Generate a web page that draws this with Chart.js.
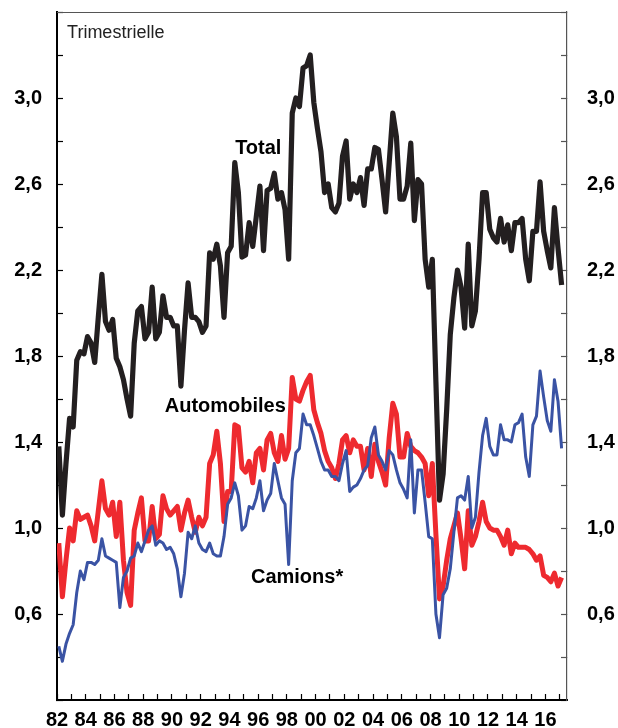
<!DOCTYPE html>
<html>
<head>
<meta charset="utf-8">
<script src="https://cdn.jsdelivr.net/npm/chart.js@4.4.1/dist/chart.umd.min.js"></script>
<style>
  html, body { margin: 0; padding: 0; background: #fff; }
  #wrap { width: 618px; height: 728px; }
</style>
</head>
<body>
<div id="wrap"><canvas id="chart" width="618" height="728"></canvas></div>
<script>
// quarterly values, first point = 1982 Q1
var startYear = 1982;

var total = [
  1.38, 1.06, 1.30, 1.51,  // 1982
  1.47, 1.78, 1.82, 1.81,
  1.89, 1.86, 1.77, 1.98,
  2.18, 1.96, 1.92, 1.97,
  1.79, 1.75, 1.69, 1.60,  // 1986
  1.52, 1.86, 2.01, 2.03,
  1.88, 1.91, 2.12, 1.88,
  1.91, 2.08, 1.98, 1.98,
  1.94, 1.94, 1.66, 1.92,  // 1990
  2.14, 1.98, 1.98, 1.96,
  1.91, 1.94, 2.28, 2.25,
  2.32, 2.22, 1.98, 2.28,
  2.31, 2.70, 2.56, 2.26,  // 1994
  2.27, 2.42, 2.31, 2.45,
  2.59, 2.29, 2.57, 2.58,
  2.65, 2.53, 2.56, 2.48,
  2.25, 2.93, 3.00, 2.96,  // 1998
  3.14, 3.15, 3.20, 2.98,
  2.86, 2.75, 2.56, 2.60,
  2.49, 2.47, 2.51, 2.73,
  2.80, 2.53, 2.60, 2.56,  // 2002
  2.63, 2.50, 2.67, 2.67,
  2.77, 2.76, 2.62, 2.47,
  2.70, 2.93, 2.82, 2.53,
  2.53, 2.59, 2.79, 2.43,  // 2006
  2.62, 2.60, 2.25, 2.12,
  2.25, 1.68, 1.13, 1.25,
  1.55, 1.90, 2.07, 2.20,
  2.12, 1.93, 2.32, 1.94,  // 2010
  2.01, 2.25, 2.56, 2.56,
  2.39, 2.35, 2.33, 2.44,
  2.33, 2.41, 2.29, 2.42,
  2.42, 2.44, 2.25, 2.15,  // 2014
  2.38, 2.38, 2.61, 2.38,
  2.29, 2.21, 2.49, 2.30,
  2.13                     // 2017
];

var automobiles = [
  0.93, 0.68, 0.85, 1.00,  // 1982
  0.94, 1.08, 1.04, 1.05,
  1.06, 1.01, 0.94, 1.08,
  1.22, 1.09, 1.06, 1.12,
  0.96, 1.12, 0.85, 0.70,  // 1986
  0.64, 0.99, 1.07, 1.14,
  0.94, 0.94, 1.10, 0.95,
  0.97, 1.15, 1.09, 1.06,
  1.08, 1.10, 0.99, 1.07,  // 1990
  1.13, 1.05, 0.98, 1.05,
  1.01, 1.05, 1.30, 1.34,
  1.45, 1.30, 1.03, 1.17,
  1.17, 1.48, 1.47, 1.28,  // 1994
  1.26, 1.31, 1.21, 1.35,
  1.37, 1.27, 1.41, 1.44,
  1.35, 1.31, 1.43, 1.32,
  1.37, 1.70, 1.60, 1.59,  // 1998
  1.64, 1.68, 1.71, 1.55,
  1.49, 1.44, 1.36, 1.31,
  1.28, 1.23, 1.30, 1.41,
  1.43, 1.35, 1.41, 1.38,  // 2002
  1.38, 1.27, 1.37, 1.24,
  1.39, 1.31, 1.26, 1.20,
  1.42, 1.58, 1.53, 1.33,
  1.33, 1.44, 1.38, 1.36,  // 2006
  1.35, 1.33, 1.30, 1.15,
  1.30, 0.97, 0.67, 0.73,
  0.85, 0.95, 1.01, 1.07,
  0.95, 0.81, 1.08, 0.92,  // 2010
  0.96, 1.03, 1.12, 1.03,
  1.00, 0.99, 0.99, 0.96,
  0.92, 0.99, 0.88, 0.93,
  0.91, 0.91, 0.91, 0.90,  // 2014
  0.88, 0.85, 0.87, 0.78,
  0.77, 0.75, 0.79, 0.73,
  0.77                     // 2017
];

var camions = [
  0.45, 0.38, 0.46, 0.51,  // 1982
  0.55, 0.70, 0.80, 0.76,
  0.84, 0.84, 0.83, 0.85,
  0.95, 0.87, 0.86, 0.85,
  0.84, 0.63, 0.77, 0.80,  // 1986
  0.86, 0.87, 0.93, 0.89,
  0.94, 0.99, 1.01, 0.92,
  0.94, 0.93, 0.90, 0.91,
  0.88, 0.81, 0.68, 0.79,  // 1990
  0.98, 0.95, 1.01, 0.93,
  0.90, 0.89, 0.93, 0.88,
  0.87, 0.87, 0.96, 1.11,
  1.14, 1.21, 1.15, 0.99,  // 1994
  1.01, 1.10, 1.09, 1.14,
  1.22, 1.08, 1.13, 1.16,
  1.30, 1.22, 1.14, 1.11,
  0.83, 1.22, 1.35, 1.37,  // 1998
  1.53, 1.48, 1.48, 1.43,
  1.37, 1.31, 1.27, 1.27,
  1.24, 1.24, 1.22, 1.30,
  1.36, 1.17, 1.19, 1.20,  // 2002
  1.23, 1.27, 1.29, 1.42,
  1.47, 1.34, 1.31, 1.27,
  1.36, 1.34, 1.27, 1.21,
  1.18, 1.14, 1.41, 1.07,  // 2006
  1.27, 1.27, 1.12, 0.96,
  0.95, 0.60, 0.49, 0.69,
  0.72, 0.81, 0.98, 1.14,
  1.15, 1.13, 1.24, 1.00,  // 2010
  1.05, 1.26, 1.43, 1.51,
  1.38, 1.34, 1.34, 1.48,
  1.41, 1.41, 1.40, 1.48,
  1.49, 1.53, 1.33, 1.24,  // 2014
  1.48, 1.52, 1.73, 1.61,
  1.50, 1.45, 1.69, 1.59,
  1.37                     // 2017
];

// in-chart captions, anchored in data units (left edge, vertical middle)
var captions = [
  {text: 'Total', x: 1994.4, y: 2.765},
  {text: 'Automobiles', x: 1989.5, y: 1.565},
  {text: 'Camions*', x: 1995.5, y: 0.772}
];
var note = {text: 'Trimestrielle', x: 1982.7, y: 3.30};

var FONT = "'Liberation Sans', Arial, Helvetica, sans-serif";

function toPoints(values) {
  return values.map(function(v, i) {
    return {x: startYear + (i + 0.5) / 4, y: v};
  });
}

function yLabel(value) {
  var t = Math.round(value * 10);
  if (t > 2 && t < 34 && (t - 2) % 4 === 0) {
    return (t / 10).toFixed(1).replace('.', ',');
  }
  return '';
}

function xLabel(value) {
  if (Math.round(value) !== value || value % 2 !== 0) return '';
  var yy = String(value % 100);
  return yy.length < 2 ? '0' + yy : yy;
}

// fixed box sizes so the plot area lands where the original has it
function fixBox(w, h) {
  return function(s) {
    if (w !== null) s.width = w;
    if (h !== null) s.height = h;
    s.paddingTop = 0;
    s.paddingBottom = 0;
    s.paddingLeft = 0;
    s.paddingRight = 0;
  };
}

var captionPlugin = {
  id: 'captions',
  afterDraw: function(chart) {
    var c = chart.ctx;
    var xs = chart.scales.x;
    var ys = chart.scales.y;
    var a = chart.chartArea;
    c.save();
    // thin frame line on top
    c.strokeStyle = '#555';
    c.lineWidth = 1.2;
    c.beginPath();
    c.moveTo(a.left, a.top + 0.5);
    c.lineTo(a.right, a.top + 0.5);
    c.stroke();

    c.fillStyle = '#000';
    c.textAlign = 'left';
    c.textBaseline = 'middle';
    c.font = 'bold 20px ' + FONT;
    captions.forEach(function(l) {
      c.fillText(l.text, xs.getPixelForValue(l.x), ys.getPixelForValue(l.y));
    });
    c.fillStyle = '#222';
    c.font = '18px ' + FONT;
    c.fillText(note.text, xs.getPixelForValue(note.x), ys.getPixelForValue(note.y));
    c.restore();
  }
};

var tickFont = {family: FONT, size: 20, weight: 'bold'};

var ctx = document.getElementById('chart').getContext('2d');
var chart = new Chart(ctx, {
  type: 'line',
  data: {
    datasets: [{
      label: 'Total',
      data: toPoints(total),
      borderColor: '#231f20',
      borderWidth: 5.2
    }, {
      label: 'Camions*',
      data: toPoints(camions),
      borderColor: '#3a53a4',
      borderWidth: 3
    }, {
      label: 'Automobiles',
      data: toPoints(automobiles),
      borderColor: '#ee2a2f',
      borderWidth: 5
    }]
  },
  options: {
    responsive: false,
    animation: false,
    layout: {padding: {top: 12, left: 0, right: 0, bottom: 0}},
    elements: {
      point: {radius: 0, hoverRadius: 0},
      line: {tension: 0, borderJoinStyle: 'round', borderCapStyle: 'butt'}
    },
    plugins: {
      legend: {display: false},
      tooltip: {enabled: false}
    },
    scales: {
      x: {
        type: 'linear',
        position: 'bottom',
        min: 1982,
        max: 2017.5,
        afterFit: fixBox(null, 28),
        border: {color: '#000', width: 2},
        grid: {drawOnChartArea: false, tickLength: -6, tickColor: '#000', tickWidth: 1.2},
        ticks: {
          stepSize: 1,
          autoSkip: false,
          maxRotation: 0,
          includeBounds: false,
          padding: 14,
          color: '#000',
          font: tickFont,
          callback: xLabel
        }
      },
      y: {
        type: 'linear',
        position: 'left',
        min: 0.2,
        max: 3.4,
        afterFit: fixBox(57, null),
        border: {color: '#000', width: 2},
        grid: {drawOnChartArea: false, tickLength: -6, tickColor: '#000', tickWidth: 1.2},
        ticks: {
          stepSize: 0.2,
          autoSkip: false,
          padding: 21,
          color: '#000',
          font: tickFont,
          callback: yLabel
        }
      },
      y2: {
        type: 'linear',
        position: 'right',
        min: 0.2,
        max: 3.4,
        afterFit: fixBox(51, null),
        border: {color: '#555', width: 1.2},
        grid: {drawOnChartArea: false, tickLength: -6, tickColor: '#555', tickWidth: 1.2},
        ticks: {
          stepSize: 0.2,
          autoSkip: false,
          padding: 26,
          color: '#000',
          font: tickFont,
          callback: yLabel
        }
      }
    }
  },
  plugins: [captionPlugin]
});
</script>
</body>
</html>
